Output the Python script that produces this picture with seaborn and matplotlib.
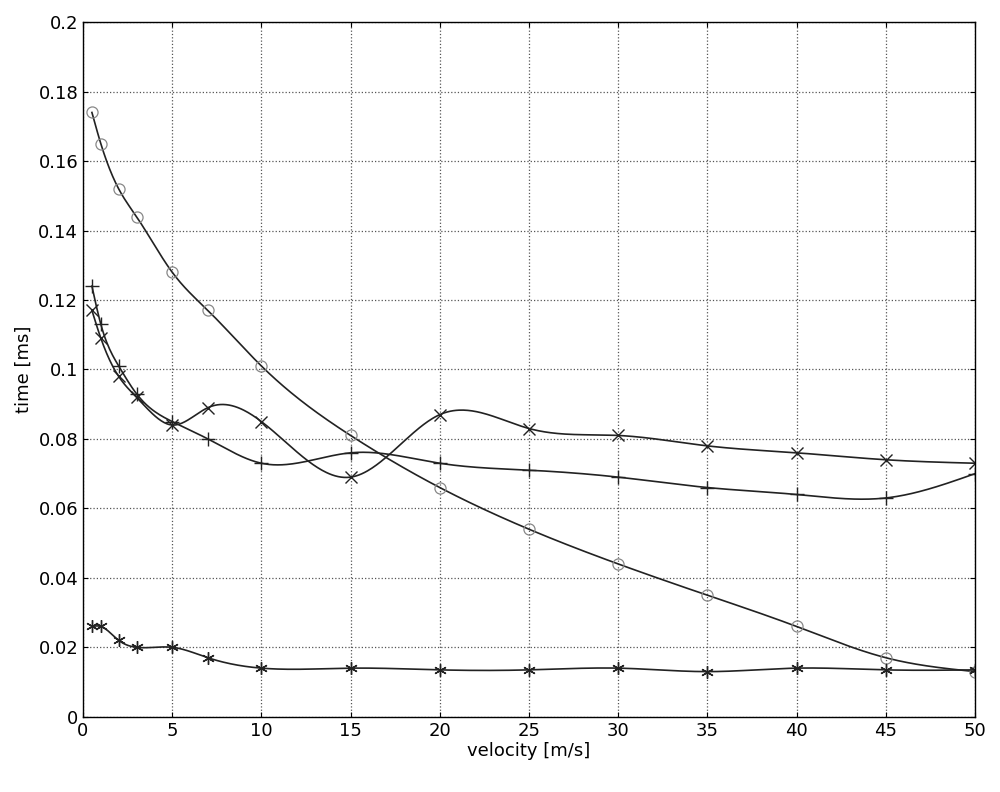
import numpy as np
import pandas as pd
import seaborn as sns
import matplotlib
matplotlib.use("Agg")
import matplotlib.pyplot as plt

velocity = [0.5, 1, 2, 3, 5, 7, 10, 15, 20, 25, 30, 35, 40, 45, 50]
circle_s = [0.174, 0.165, 0.152, 0.144, 0.128, 0.117, 0.101, 0.081, 0.066, 0.054, 0.044, 0.035, 0.026, 0.017, 0.013]
plus_s = [0.124, 0.113, 0.101, 0.093, 0.085, 0.080, 0.073, 0.076, 0.073, 0.071, 0.069, 0.066, 0.064, 0.063, 0.070]
cross_s = [0.117, 0.109, 0.098, 0.092, 0.084, 0.089, 0.085, 0.069, 0.087, 0.083, 0.081, 0.078, 0.076, 0.074, 0.073]
star_s = [0.026, 0.026, 0.022, 0.020, 0.020, 0.017, 0.014, 0.014, 0.0135, 0.0135, 0.014, 0.013, 0.014, 0.0135, 0.0135]

def spline(x, y, xs):
    x = np.asarray(x, float); y = np.asarray(y, float)
    n = len(x); h = np.diff(x)
    A = np.zeros((n, n)); b = np.zeros(n)
    A[0, 0] = A[-1, -1] = 1
    for i in range(1, n - 1):
        A[i, i - 1] = h[i - 1]; A[i, i] = 2 * (h[i - 1] + h[i]); A[i, i + 1] = h[i]
        b[i] = 6 * ((y[i + 1] - y[i]) / h[i] - (y[i] - y[i - 1]) / h[i - 1])
    M = np.linalg.solve(A, b)
    out = np.empty_like(xs)
    for k, t in enumerate(xs):
        i = min(max(np.searchsorted(x, t) - 1, 0), n - 2)
        a, c = x[i + 1] - t, t - x[i]
        out[k] = (M[i] * a**3 + M[i + 1] * c**3) / (6 * h[i]) + (y[i] / h[i] - M[i] * h[i] / 6) * a + (y[i + 1] / h[i] - M[i + 1] * h[i] / 6) * c
    return out

fig = plt.figure(figsize=(10, 7.92), dpi=100)
ax = fig.add_axes([0.083, 0.095, 0.892, 0.877])
xs = np.linspace(0.5, 50, 600)
series = [(circle_s, "o", "#888888", 8), (plus_s, "+", "#222222", 10), (cross_s, "x", "#222222", 8), (star_s, (6, 2, 0), "#222222", 9)]
for ys, m, mc, ms in series:
    sns.lineplot(x=xs, y=spline(velocity, ys, xs), ax=ax, color="#222222", lw=1.2)
    if m == "o":
        ax.plot(velocity, ys, ls="none", marker="o", mfc="none", mec=mc, ms=ms, mew=0.9)
    else:
        ax.plot(velocity, ys, ls="none", marker=m, color=mc, ms=ms, mew=1.0)

ax.set_xlim(0, 50); ax.set_ylim(0, 0.2)
ax.set_xticks(range(0, 51, 5))
ax.set_yticks(np.round(np.arange(0, 0.201, 0.02), 2))
ax.set_yticklabels(["0", "0.02", "0.04", "0.06", "0.08", "0.1", "0.12", "0.14", "0.16", "0.18", "0.2"])
ax.grid(True, ls=":", color="#555555", lw=0.9)
ax.tick_params(labelsize=13, direction="in", top=True, right=True)
for s in ax.spines.values():
    s.set_linewidth(1.0)
ax.set_xlabel("velocity [m/s]", fontsize=13, labelpad=2)
ax.set_ylabel("time [ms]", fontsize=13)
fig.savefig("out.png", dpi=100)
